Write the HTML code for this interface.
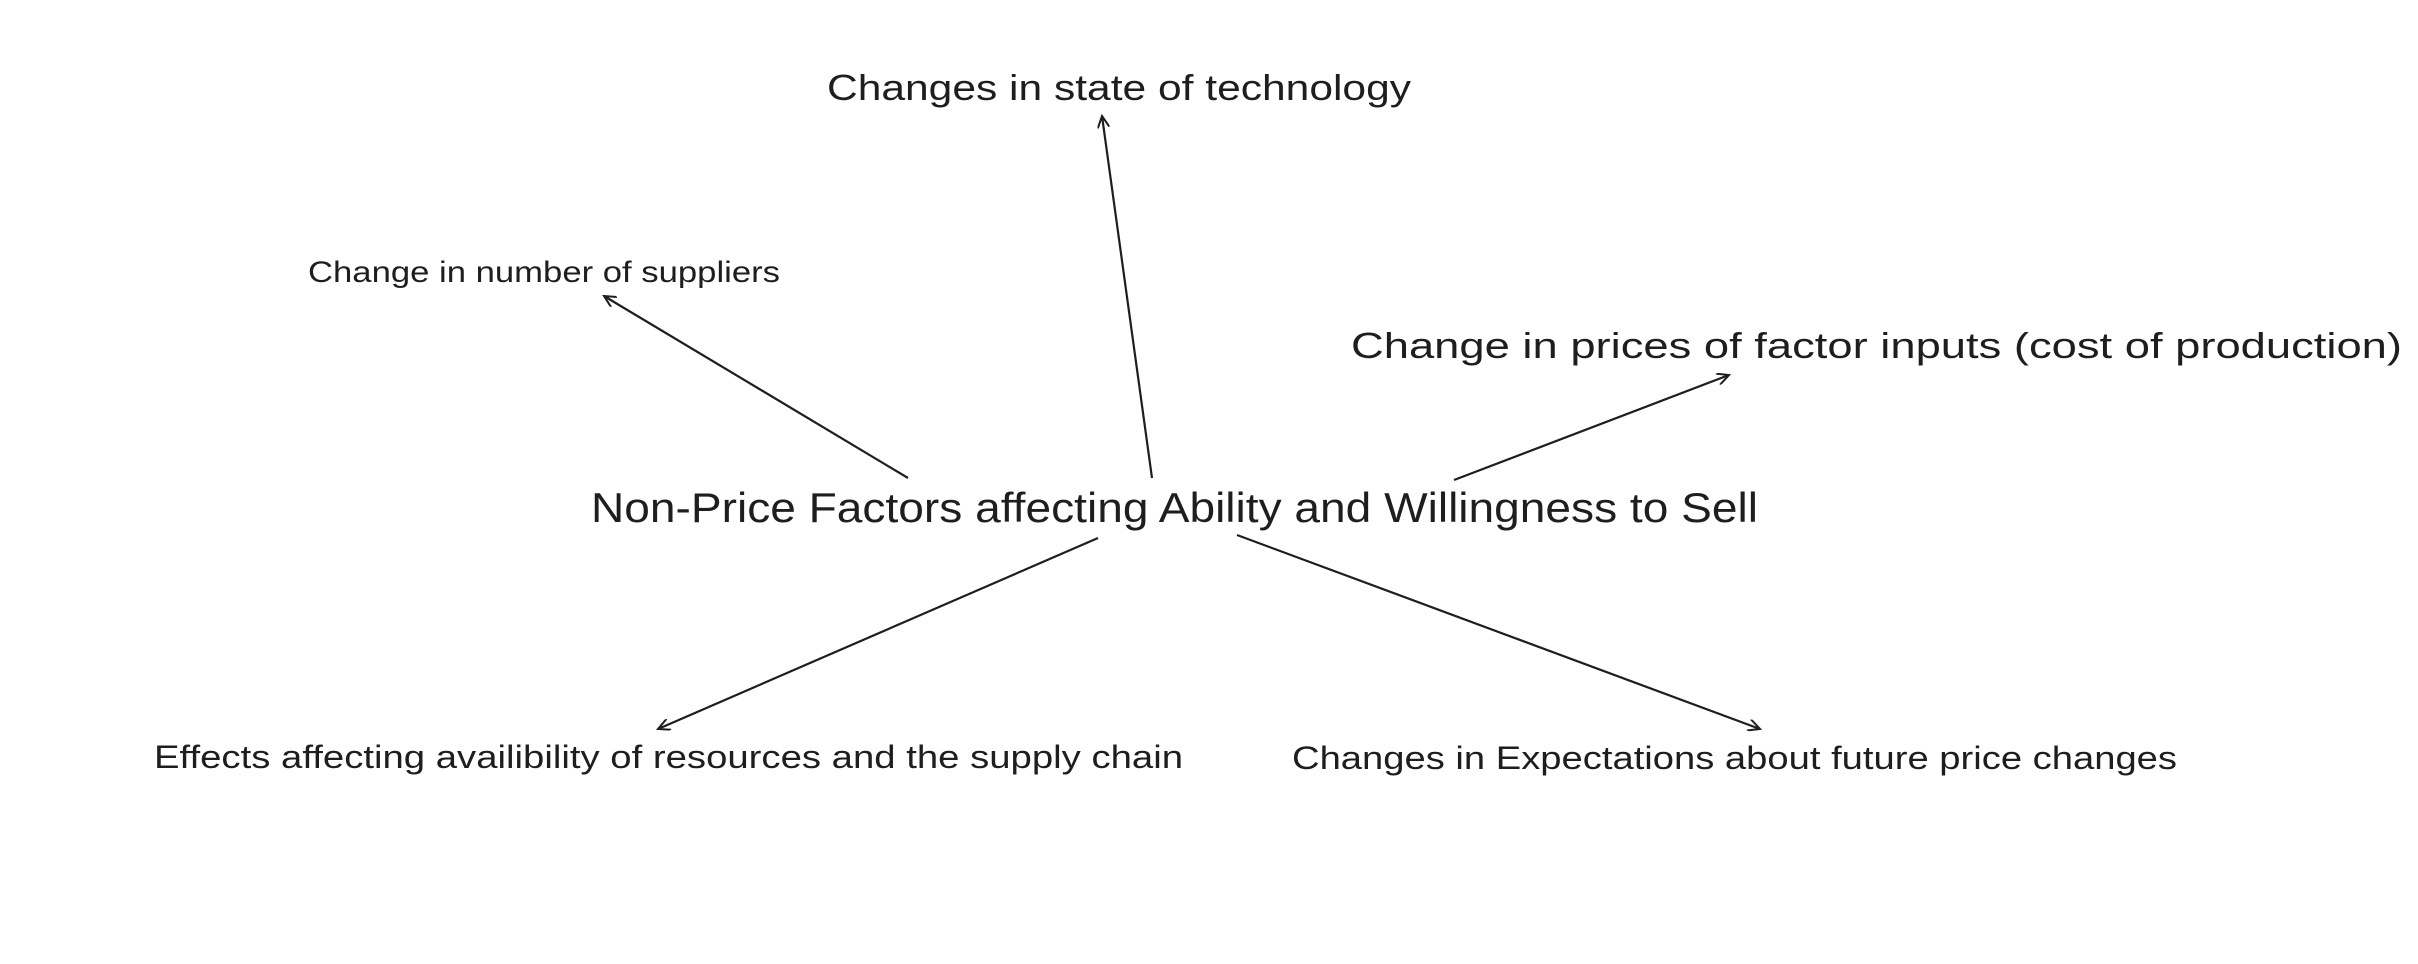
<!DOCTYPE html>
<html><head><meta charset="utf-8"><style>
html,body{margin:0;padding:0;background:#fff;width:2418px;height:964px;overflow:hidden}
text{font-family:"Liberation Sans",sans-serif;fill:#1e1e1e}
</style></head><body>
<svg width="2418" height="964" viewBox="0 0 2418 964" xmlns="http://www.w3.org/2000/svg">
<defs><marker id="a" markerWidth="14" markerHeight="12" refX="12" refY="6" orient="auto" markerUnits="userSpaceOnUse"><path d="M0,0 L12,6 L0,12" fill="none" stroke="#1e1e1e" stroke-width="2"/></marker></defs>
<g stroke="#1e1e1e" stroke-width="2.2" fill="none" marker-end="url(#a)">
<line x1="1152" y1="478" x2="1102" y2="116"/>
<line x1="908" y1="478" x2="604" y2="296"/>
<line x1="1454" y1="480" x2="1729" y2="375"/>
<line x1="1098" y1="538" x2="658" y2="729"/>
<line x1="1237" y1="535" x2="1760" y2="729"/>
</g>
<text x="827" y="100" font-size="36" textLength="584" lengthAdjust="spacingAndGlyphs">Changes in state of technology</text>
<text x="308" y="282" font-size="30" textLength="472" lengthAdjust="spacingAndGlyphs">Change in number of suppliers</text>
<text x="1351" y="358" font-size="36" textLength="1051" lengthAdjust="spacingAndGlyphs">Change in prices of factor inputs (cost of production)</text>
<text x="591" y="522" font-size="42" textLength="1167" lengthAdjust="spacingAndGlyphs">Non-Price Factors affecting Ability and Willingness to Sell</text>
<text x="154" y="768" font-size="32" textLength="1029" lengthAdjust="spacingAndGlyphs">Effects affecting availibility of resources and the supply chain</text>
<text x="1292" y="769" font-size="32" textLength="885" lengthAdjust="spacingAndGlyphs">Changes in Expectations about future price changes</text>
</svg>
</body></html>
